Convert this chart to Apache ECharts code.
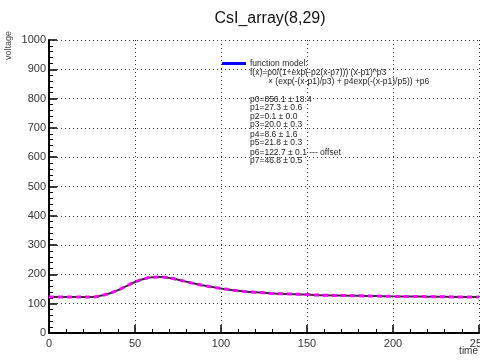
<!DOCTYPE html>
<html><head><meta charset="utf-8">
<script src="https://cdn.jsdelivr.net/npm/echarts@6/dist/echarts.min.js"></script>
<style>html,body{margin:0;padding:0;background:#fff}#c{width:480px;height:360px}</style>
</head><body><div id="c"></div>
<script>
const timeValues = [0,5,10,15,20,25,30,35,40,45,50,55,60,65,70,75,80,85,90,95,100,105,110,115,120,125,130,135,140,145,150,160,170,180,190,200,210,220,230,240,250];
const voltageValues = [122.7,122.7,122.7,122.7,122.7,123,127,135,146,160,174,184,190,191,188,182,175,168,162,157,152,148,144,141,139,137,135,134,133,132,131,129,128,127,126,125,124.5,124,123.5,123,123];
const xTicks = [0,50,100,150,200,250];
const yTicks = [0,100,200,300,400,500,600,700,800,900,1000];
const titleText = 'CsI_array(8,29)';
const xName = 'time';
const yName = 'voltage';
const legendLines = ['function model:', 'f(x)=p0/(1+exp(-p2(x-p7))) (x-p1)^p3', '× (exp(-(x-p1)/p3) + p4exp(-(x-p1)/p5)) +p6'];
const paramLines = ['p0=856.1 ± 18.4','p1=27.3 ± 0.6','p2=0.1 ± 0.0','p3=20.0 ± 0.3','p4=8.6 ± 1.6','p5=21.8 ± 0.3','p6=122.7 ± 0.1 --- offset','p7=46.8 ± 0.5'];

const pts = timeValues.map((t,i)=>[t, voltageValues[i]]);
const chart = echarts.init(document.getElementById('c'), null, {renderer:'canvas'});
const font = 'Liberation Sans, Helvetica, Arial, sans-serif';
const paramY = [100,108,117,125,135,143,153,161];
const graphics = [
  {type:'rect', shape:{x:222,y:62,width:24,height:3}, style:{fill:'#0000ff'}},
  {type:'text', left:250, top:59, style:{text:legendLines[0], font:'8.5px '+font, fill:'#222'}},
  {type:'text', left:250, top:68, style:{text:legendLines[1], font:'8.5px '+font, fill:'#222'}},
  {type:'text', left:268, top:77, style:{text:legendLines[2], font:'8.5px '+font, fill:'#222'}},
  {type:'text', x:478, y:346, style:{text:xName, font:'10px '+font, fill:'#333', align:'right', verticalAlign:'top'}},
  {type:'text', x:9, y:31, rotation:Math.PI/2, style:{text:yName, font:'9px '+font, fill:'#444', align:'right', verticalAlign:'middle'}}
];
paramLines.forEach((s,i)=>graphics.push({type:'text', left:250, top:paramY[i]-5, style:{text:s, font:'8.5px '+font, fill:'#222'}}));

chart.setOption({
  animation:false,
  backgroundColor:'#fff',
  title:{text:titleText, left:265, top:6, textAlign:'center', textStyle:{fontFamily:font, fontSize:16, fontWeight:'normal', color:'#111'}},
  grid:{left:49, right:1, top:40, bottom:27, containLabel:false, outerBoundsMode:'none'},
  xAxis:{type:'value', min:xTicks[0], max:xTicks[xTicks.length-1], interval:50,
    axisLine:{lineStyle:{color:'#000', width:2}},
    axisTick:{inside:true, length:8, lineStyle:{color:'#000', width:1.5}},
    minorTick:{show:true, splitNumber:5, length:4, lineStyle:{color:'#000', width:1}},
    axisLabel:{fontFamily:font, fontSize:11, color:'#333', margin:5, showMaxLabel:true, hideOverlap:false, formatter:v=>String(v)},
    splitLine:{show:true, lineStyle:{color:'#333', type:[1,3], width:1}}},
  yAxis:{type:'value', min:yTicks[0], max:yTicks[yTicks.length-1], interval:100,
    axisLine:{show:true, lineStyle:{color:'#000', width:2}},
    axisTick:{inside:true, length:8, lineStyle:{color:'#000', width:1.5}},
    minorTick:{show:true, splitNumber:5, length:4, lineStyle:{color:'#000', width:1}},
    axisLabel:{fontFamily:font, fontSize:11, color:'#333', margin:3, formatter:v=>String(v)},
    splitLine:{show:true, lineStyle:{color:'#333', type:[1,3], width:1}}},
  series:[
    {type:'line', data:pts, smooth:true, symbol:'none', lineStyle:{color:'#333', width:2}},
    {type:'line', data:pts, smooth:true, symbol:'none', lineStyle:{color:'#ff00ff', width:3, type:[5,4]}}
  ],
  graphic:graphics
});
</script></body></html>
